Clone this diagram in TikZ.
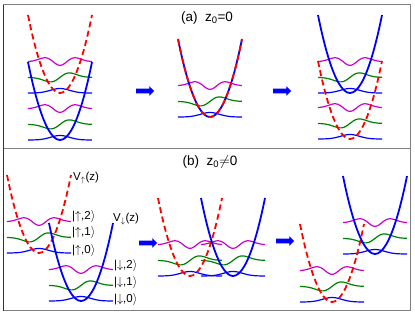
\documentclass[tikz,border=0pt]{standalone}
\usepackage{fontspec}
\setmainfont{Liberation Sans}
\usetikzlibrary{shapes.arrows}

\definecolor{wgreen}{RGB}{0,128,0}
\definecolor{wmagenta}{RGB}{204,0,204}

% three lowest oscillator states of a well: centre x, ground level y
\newcommand{\oscLevels}[2]{%
  \draw[wave, blue] plot ({#1+\x},{#2-4.5*exp(-(\x/9.5)*(\x/9.5)/2)});
  \draw[wave, wgreen] plot ({#1+\x},{#2-15.6-7.4*(\x/9.5)*exp(-(\x/9.5)*(\x/9.5)/2)});
  \draw[wave, wmagenta] plot ({#1+\x},{#2-31.2-3.5*(2*(\x/9.5)*(\x/9.5)-1)*exp(-(\x/9.5)*(\x/9.5)/2)});
}
\newcommand{\potWell}[3]{%
  \draw[#1] ({#2-32},{#3-78}) parabola bend (#2,#3) ({#2+32},{#3-78});
}

\begin{document}
\begin{tikzpicture}[
  x=1pt, y=-1pt,
  wave/.style={line width=1.2pt, domain=-32:32, samples=61},
  wellup/.style={red, line width=1.8pt, dash pattern=on 6pt off 3.5pt},
  welldown/.style={blue, line width=1.8pt},
  ket/.style={anchor=west, inner sep=1pt, font=\fontsize{11.5}{13}\selectfont},
  title/.style={font=\fontsize{13.5}{15}\selectfont},
  shiftarrow/.style={single arrow, fill=blue, draw=none, minimum height=18pt,
                single arrow head extend=2.5pt, inner sep=2.2pt},
]
\useasboundingbox (0,0) rectangle (415,314);

\draw[gray, line width=1.3pt] (3.5,4.5) rectangle (410.5,310.5);
\draw[gray, line width=1pt] (3.5,148.5) -- (410.5,148.5);
\draw[black!80, line width=1.3pt] (3.5,4.5) -- (3.5,310.5);

\node[title] (titleA) at (207,18) {(a)\ \ z\textsubscript{0}=0};
\node[title] (titleB) at (210,162) {(b)\ \ z\textsubscript{0}$\neq$0};

\oscLevels{60}{140}
\oscLevels{60}{93}
\potWell{welldown}{60}{140}
\potWell{wellup}{60}{93}

\oscLevels{210}{117}
\potWell{welldown}{210}{117}
\potWell{wellup}{210}{117}

\oscLevels{350}{139}
\oscLevels{350}{93}
\potWell{wellup}{350}{139}
\potWell{welldown}{350}{93}

\node[shiftarrow] (shiftA1) at (144,91) {};
\node[shiftarrow] (shiftA2) at (281,91) {};

\oscLevels{39}{253}
\oscLevels{81}{301}
\potWell{wellup}{39}{253}
\potWell{welldown}{81}{301}

\node[ket] (potU) at (72,178) {V$_\uparrow$(z)};
\node[ket] (potD) at (112,219) {V$_\downarrow$(z)};
\node[ket] (ketU2) at (71,216) {|$\uparrow$,2$\rangle$};
\node[ket] (ketU1) at (71,232) {|$\uparrow$,1$\rangle$};
\node[ket] (ketU0) at (71,250) {|$\uparrow$,0$\rangle$};
\node[ket] (ketD2) at (113,265) {|$\downarrow$,2$\rangle$};
\node[ket] (ketD1) at (113,282) {|$\downarrow$,1$\rangle$};
\node[ket] (ketD0) at (113,299) {|$\downarrow$,0$\rangle$};

\oscLevels{190}{276}
\oscLevels{233}{276}
\potWell{wellup}{190}{276}
\potWell{welldown}{233}{276}

\oscLevels{332}{302}
\oscLevels{375}{254}
\potWell{wellup}{332}{302}
\potWell{welldown}{375}{254}

\node[shiftarrow] (shiftB1) at (147,243) {};
\node[shiftarrow] (shiftB2) at (284,241) {};

\end{tikzpicture}
\end{document}
